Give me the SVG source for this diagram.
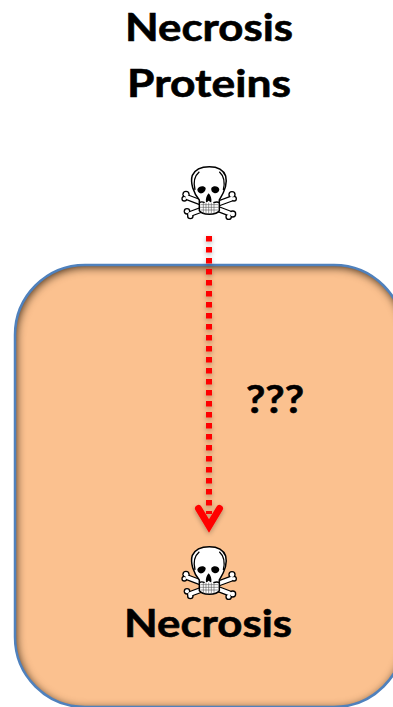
<svg xmlns="http://www.w3.org/2000/svg" width="393" height="707" viewBox="0 0 393 707">
<style>
text{font-family:Lato,"Open Sans","Liberation Sans",sans-serif;font-weight:700;fill:#000;stroke:#000;stroke-width:.6;text-anchor:middle}
.t{font-size:38px}
.bk{fill:none;stroke:#000;stroke-width:18;stroke-linecap:round}
.bw{fill:none;stroke:#fff;stroke-width:11;stroke-linecap:round}
.ln{fill:none;stroke:#000;stroke-width:4}
.gr{fill:none;stroke:#555;stroke-width:1.8}
</style>
<defs>
<filter id="inner" x="-5%" y="-5%" width="110%" height="110%" color-interpolation-filters="sRGB">
<feFlood flood-color="#2a1a0a" flood-opacity="0.95"/>
<feComposite in2="SourceAlpha" operator="out"/>
<feOffset dx="1" dy="2"/>
<feGaussianBlur stdDeviation="5"/>
<feComposite in2="SourceAlpha" operator="in" result="s"/>
<feMerge><feMergeNode in="SourceGraphic"/><feMergeNode in="s"/></feMerge>
</filter>
<filter id="sh" x="-50%" y="-5%" width="200%" height="110%">
<feGaussianBlur in="SourceAlpha" stdDeviation="2.500"/>
<feOffset dy="2"/>
<feComponentTransfer><feFuncA type="linear" slope="0.3"/></feComponentTransfer>
<feMerge><feMergeNode/><feMergeNode in="SourceGraphic"/></feMerge>
</filter>
<g id="skull" transform="scale(.3333)">
<path class="bk" d="M82 142L208 190M214 146L90 192"/>
<g fill="#000"><circle cx="78" cy="133" r="11"/><circle cx="73" cy="146" r="9"/><circle cx="218" cy="192" r="11"/><circle cx="206" cy="200" r="10"/><circle cx="216" cy="134" r="11"/><circle cx="222" cy="146" r="9"/><circle cx="81" cy="184" r="10"/><circle cx="91" cy="198" r="10"/></g>
<g fill="#fff"><circle cx="78" cy="133" r="7"/><circle cx="73" cy="146" r="5"/><circle cx="218" cy="192" r="7"/><circle cx="206" cy="200" r="6"/><circle cx="216" cy="134" r="7"/><circle cx="222" cy="146" r="5"/><circle cx="81" cy="184" r="6"/><circle cx="91" cy="198" r="6"/></g>
<path class="bw" d="M82 142L208 190M214 146L90 192"/>
<path fill="#fff" stroke="#000" stroke-width="4.500" d="M118 150C100 128 90 98 97 76C106 56 128 50 148 50C170 50 190 58 197 78C203 100 192 128 178 150L178 182C170 196 126 196 118 182Z"/>
<path class="ln" d="M105 120C100 100 103 78 118 65M190 120C195 100 192 78 178 65"/>
<path fill="#000" d="M112 118C116 108 132 106 137 114C138 124 128 132 120 130C115 128 112 124 112 118ZM154 114C160 106 176 108 178 118C178 126 170 131 164 130C157 128 152 122 154 114Z"/>
<path fill="#000" d="M146 130C152 136 156 148 154 156C150 158 148 152 146 152C144 152 142 158 138 156C136 148 140 136 146 130Z"/>
<path class="gr" d="M122 164H174M120 172H176M122 180H174M130 158V190M138 158V192M146 158V192M154 158V192M162 158V190"/>
<path class="ln" d="M118 158C124 154 130 156 134 158M178 158C172 154 166 156 160 158"/>
</g>
</defs>
<g id="cell"><rect x="15" y="265" width="389" height="442" rx="70" ry="70" fill="#fbc18f" filter="url(#inner)"/><rect x="15" y="265" width="389" height="442" rx="70" ry="70" fill="none" stroke="#4f81bd" stroke-width="2.500"/></g>
<g id="title"><text class="t" x="209" y="41" textLength="168" lengthAdjust="spacingAndGlyphs">Necrosis</text><text class="t" x="209" y="97" textLength="164" lengthAdjust="spacingAndGlyphs">Proteins</text></g>
<g id="connectors" filter="url(#sh)">
<path d="M209 236V514" fill="none" stroke="#f00" stroke-width="6" stroke-dasharray="5.500 5.500"/>
<path d="M198.500 508.500L209 526L219.500 508.500" fill="none" stroke="#f00" stroke-width="7" stroke-linecap="round" stroke-linejoin="miter"/>
</g>
<g id="skull-top"><use href="#skull" x="160" y="150"/></g>
<g id="skull-bottom"><use href="#skull" x="160" y="530"/></g>
<g id="question"><text class="t" x="275" y="413" textLength="58" lengthAdjust="spacingAndGlyphs">???</text></g>
<g id="necrosis"><text class="t" x="208" y="637" textLength="168" lengthAdjust="spacingAndGlyphs">Necrosis</text></g>
</svg>
